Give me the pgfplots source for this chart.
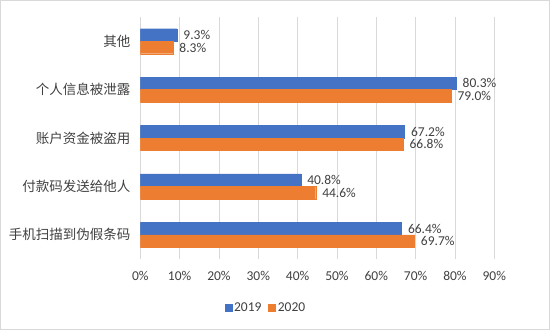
\documentclass[border=0pt]{standalone}
\usepackage{pgfplots}
\pgfplotsset{compat=1.18}
\usepackage{fontspec}
\setmainfont{Carlito}
\newfontfamily\cjk{Noto Sans CJK SC}
\definecolor{cblue}{HTML}{4472C4}
\definecolor{corange}{HTML}{ED7D31}
\definecolor{cgrid}{HTML}{D9D9D9}
\definecolor{ctext}{HTML}{404040}
\begin{document}
\begin{tikzpicture}[x=1pt,y=1pt]
\path[use as bounding box] (0,0) rectangle (550,330);
\draw[cgrid, line width=1pt] (0.5,0.5) rectangle (549.5,329.5);
\begin{axis}[
  at={(140.3pt,71pt)}, anchor=south west,
  scale only axis, width=354pt, height=242pt,
  xmin=0, xmax=90, ymin=-0.5, ymax=4.5,
  y dir=reverse,
  xbar, bar width=12.5pt,
  xtick={0,10,...,90},
  xticklabel={\pgfmathprintnumber{\tick}\%},
  ytick={0,1,2,3,4},
  yticklabels={{\cjk 其他},{\cjk 个人信息被泄露},{\cjk 账户资金被盗用},{\cjk 付款码发送给他人},{\cjk 手机扫描到伪假条码}},
  tick style={draw=none},
  axis line style={draw=none},
  xmajorgrids, major grid style={cgrid, line width=0.8pt},
  ymajorgrids=false,
  tick label style={font=\fontsize{13.5}{15}\selectfont, text=ctext},
  /pgf/number format/assume math mode=true,
  xticklabel style={yshift=-9pt},
  yticklabel style={xshift=-2pt, font=\fontsize{13.5}{15}\selectfont},
  nodes near coords={\pgfmathprintnumber[fixed,precision=1,fixed zerofill]{\pgfplotspointmeta}\%},
  nodes near coords style={font=\fontsize{13.5}{15}\selectfont, text=ctext, anchor=west, xshift=3pt},
  point meta=explicit,
  legend style={at={(0.355,-0.2)}, anchor=center, draw=none, legend columns=2, font=\fontsize{13.5}{15}\selectfont, text=ctext, /tikz/every even column/.append style={column sep=5pt}},
  legend image code/.code={\fill[#1] (0pt,-3.5pt) rectangle (7pt,3.5pt);},
]
\addplot[fill=cblue, draw=cblue, bar shift=6.25pt] coordinates {(9.3,0) [9.3] (80.3,1) [80.3] (67.2,2) [67.2] (40.8,3) [40.8] (66.4,4) [66.4]};
\addplot[fill=corange, draw=corange, bar shift=-6.25pt] coordinates {(8.3,0) [8.3] (79.0,1) [79.0] (66.8,2) [66.8] (44.6,3) [44.6] (69.7,4) [69.7]};
\legend{2019,2020}
\end{axis}
\end{tikzpicture}
\end{document}
